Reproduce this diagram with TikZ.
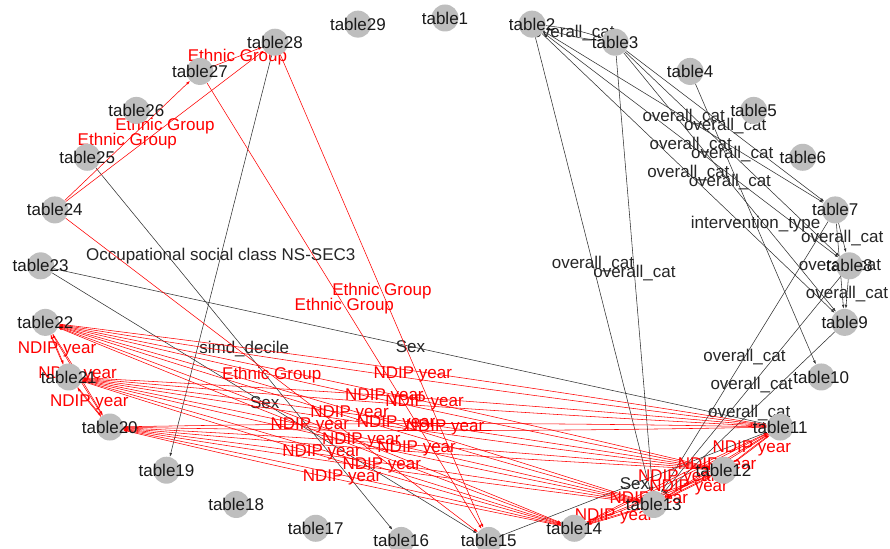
\documentclass[tikz,border=0pt]{standalone}
\usepackage{fontspec}
\setmainfont{Liberation Sans}
\usetikzlibrary{arrows.meta}
\pgfdeclarelayer{paper}
\pgfdeclarelayer{edgelayer}
\pgfsetlayers{paper,edgelayer,main}
\definecolor{vfill}{RGB}{190,190,190}
\definecolor{edgegray}{RGB}{50,50,50}
\begin{document}
\begin{tikzpicture}[x=1pt,y=-1pt,
  vertex/.style={circle,fill=vfill,draw=none,minimum size=27pt,inner sep=0pt},
  vlabel/.style={font=\fontsize{17}{19}\selectfont,text=black!90,inner sep=0pt},
  link/.style={edgegray,line width=0.55pt,-{Latex[length=4pt,width=2.6pt]}},
  redlink/.style={red,line width=0.55pt,-{Latex[length=4pt,width=2.6pt]}},
  elabel/.style={font=\fontsize{17}{19}\selectfont,text=black!85,inner sep=0pt},
  rlabel/.style={elabel,text=red}]
\begin{pgfonlayer}{paper}
\fill[white] (0,0) rectangle (890,548);
\end{pgfonlayer}
\useasboundingbox (0,0) rectangle (890,548);

% vertices on a circle, table1 at the top, clockwise
\foreach \k in {1,...,29}{
  \pgfmathsetmacro{\ang}{90-(\k-1)*360/29}
  \node[vertex] (t\k) at ({445+405*cos(\ang)},{280-262*sin(\ang)}) {};
  \node[vlabel] (l\k) at (t\k) {table\k};
}

\begin{pgfonlayer}{edgelayer}
% overall_cat links
\foreach \a/\b in {2/7,2/8,2/9,2/13,3/7,3/8,3/9,3/13,7/8,7/9,8/9,7/13,8/13,9/13}
  \draw[link] (t\a) -- (t\b) node[elabel,midway]{overall\_cat};
\draw[link] (t2) to[bend left=6] (t3);
\draw[link] (t3) to[bend left=6] (t2);
\path (t2) -- (t3) node[elabel,midway]{overall\_cat};

% single black links
\draw[link] (t4) -- (t10) node[elabel,midway]{intervention\_type};
\draw[link] (t23) -- (t11) node[elabel,midway]{Sex};
\draw[link] (t23) -- (t15) node[elabel,midway]{Sex};
\draw[link] (t15) -- (t11) node[elabel,midway]{Sex};
\draw[link] (t25) -- (t16) node[elabel,midway]{simd\_decile};
\draw[link] (t28) -- (t19) node[elabel,midway]{Occupational social class NS-SEC3};

% Ethnic Group links
\foreach \a/\b in {24/27,24/28,27/28,24/15,27/15,28/15}
  \draw[redlink] (t\a) -- (t\b) node[rlabel,midway]{Ethnic Group};

% NDIP year links, both directions for every pair
\foreach \a/\b in {11/12,11/13,11/14,12/13,12/14,13/14,20/21,20/22,21/22,
                   22/11,22/12,22/13,22/14,21/11,21/12,21/13,21/14,
                   20/11,20/12,20/13,20/14}{
  \draw[redlink] (t\a) to[bend left=1] (t\b);
  \draw[redlink] (t\b) to[bend left=1] (t\a);
  \path (t\a) -- (t\b) node[rlabel,midway]{NDIP year};
}
\end{pgfonlayer}
\end{tikzpicture}
\end{document}
